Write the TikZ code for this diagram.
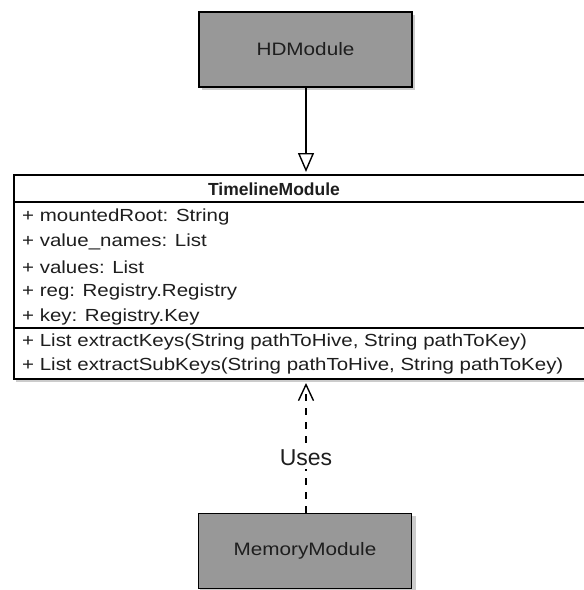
\documentclass[tikz,border=0pt]{standalone}
\usepackage{fontspec}
\setmainfont{Liberation Sans}
\newfontfamily\widesans{Liberation Sans}[FakeStretch=1.15]
\newfontfamily\memberfont{Liberation Sans}[FakeStretch=1.17]
\usetikzlibrary{arrows.meta}
\definecolor{modfill}{RGB}{152,152,152}
\definecolor{inkdark}{RGB}{30,30,30}
\tikzset{
  module/.style={draw=black, line width=1.6pt, fill=modfill, minimum width=213pt,
    minimum height=75pt, inner sep=0pt, font=\widesans\fontsize{18}{20}\selectfont, text=inkdark},
  shade box/.style={fill=black, opacity=0.2},
  member/.style={anchor=west, inner sep=0pt, font=\memberfont\fontsize{17.5}{20}\selectfont, text=inkdark},
  classline/.style={line width=1.6pt},
  inherit/.style={line width=1.4pt, -{Triangle[open, length=19pt, width=16pt, line width=1.4pt]}},
  depend/.style={line width=1.4pt, dash pattern=on 7pt off 7pt,
    -{Straight Barb[length=16pt, width=15pt, line width=1.4pt]}},
}
\begin{document}
\begin{tikzpicture}[x=1pt, y=-1pt]
\useasboundingbox (0,0) rectangle (584,590);
\fill[white] (0,0) rectangle (584,590);

% soft shadows under the boxes
\fill[shade box] (202,15) rectangle (415,90);
\fill[shade box] (200,516) rectangle (416,591);
\fill[shade box] (16,178) rectangle (590,382);

% HDModule
\node[module] (hd) at (305.5,49.5) {HDModule};

% TimelineModule class box with its three compartments
\fill[white] (14,175) rectangle (590,379);
\coordinate (tlTop) at (306,175);
\coordinate (tlBot) at (306,379);
\draw[classline] (590,175) -- (14,175) -- (14,379) -- (590,379);
\draw[classline] (14,202) -- (590,202);
\draw[classline] (14,328) -- (590,328);
\node[font=\bfseries\fontsize{17.5}{20}\selectfont, text=inkdark, inner sep=0pt] (tltitle) at (274,189) {TimelineModule};
\node[member] (a1) at (22,217) {+ mountedRoot: String};
\node[member] (a2) at (22,242) {+ value\_names: List};
\node[member] (a3) at (22,267) {+ values: List};
\node[member] (a4) at (22,292) {+ reg: Registry.Registry};
\node[member] (a5) at (22,317) {+ key: Registry.Key};
\node[member] (m1) at (22,342) {+ List extractKeys(String pathToHive, String pathToKey)};
\node[member] (m2) at (22,366) {+ List extractSubKeys(String pathToHive, String pathToKey)};

% MemoryModule
\node[module] (mem) at (305,551) {MemoryModule};

% generalisation arrow
\draw[inherit, shorten >=3pt] (hd.south -| tlTop) -- (tlTop);

% dependency arrow with its label
\draw[depend, shorten >=4pt] (mem.north -| tlBot) -- (tlBot);
\node[fill=white, font=\fontsize{23}{26}\selectfont, text=inkdark, inner sep=3pt] (uses) at (306,458) {Uses};
\end{tikzpicture}
\end{document}
